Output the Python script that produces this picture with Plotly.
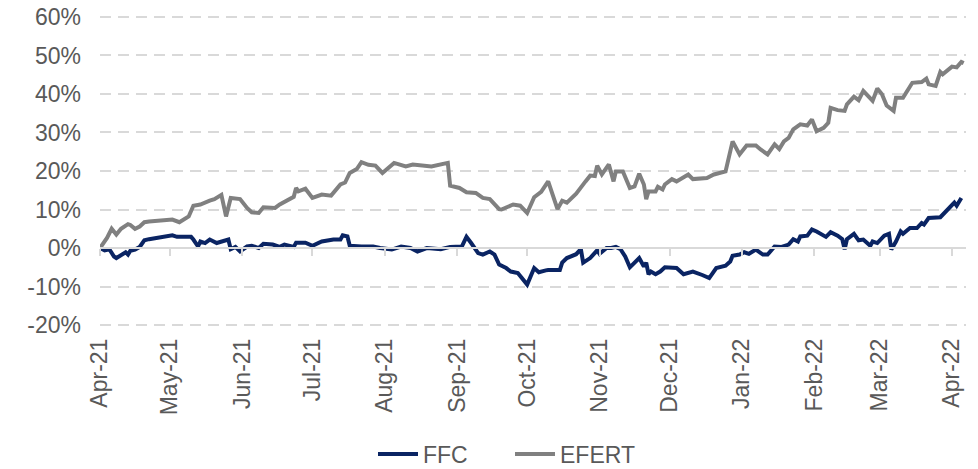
import plotly.graph_objects as go

ffc_dates = ["2021-04-01","2021-04-03","2021-04-05","2021-04-07","2021-04-08","2021-04-10","2021-04-12","2021-04-13","2021-04-14","2021-04-16","2021-04-18","2021-04-20","2021-04-22","2021-05-02","2021-05-04","2021-05-10","2021-05-11","2021-05-13","2021-05-14","2021-05-16","2021-05-18","2021-05-21","2021-05-26","2021-05-27","2021-05-29","2021-05-31","2021-06-03","2021-06-05","2021-06-08","2021-06-10","2021-06-14","2021-06-17","2021-06-19","2021-06-23","2021-06-24","2021-06-28","2021-07-01","2021-07-05","2021-07-10","2021-07-13","2021-07-14","2021-07-16","2021-07-17","2021-07-22","2021-07-27","2021-07-30","2021-08-04","2021-08-08","2021-08-12","2021-08-15","2021-08-19","2021-08-25","2021-08-29","2021-09-03","2021-09-05","2021-09-07","2021-09-10","2021-09-12","2021-09-15","2021-09-17","2021-09-19","2021-09-22","2021-09-24","2021-09-27","2021-09-29","2021-10-01","2021-10-04","2021-10-06","2021-10-09","2021-10-10","2021-10-15","2021-10-16","2021-10-18","2021-10-22","2021-10-24","2021-10-25","2021-10-28","2021-10-31","2021-11-01","2021-11-04","2021-11-06","2021-11-08","2021-11-10","2021-11-12","2021-11-14","2021-11-16","2021-11-18","2021-11-20","2021-11-21","2021-11-22","2021-11-23","2021-11-25","2021-11-27","2021-11-29","2021-12-04","2021-12-07","2021-12-11","2021-12-15","2021-12-18","2021-12-21","2021-12-25","2021-12-27","2021-12-28","2021-12-31","2022-01-02","2022-01-04","2022-01-07","2022-01-10","2022-01-12","2022-01-15","2022-01-18","2022-01-21","2022-01-23","2022-01-25","2022-01-26","2022-01-29","2022-01-31","2022-02-02","2022-02-06","2022-02-08","2022-02-11","2022-02-13","2022-02-14","2022-02-15","2022-02-18","2022-02-20","2022-02-22","2022-02-25","2022-02-26","2022-02-28","2022-03-03","2022-03-05","2022-03-06","2022-03-08","2022-03-10","2022-03-11","2022-03-14","2022-03-17","2022-03-19","2022-03-20","2022-03-22","2022-03-27","2022-03-30","2022-04-02","2022-04-03","2022-04-05"]
ffc_values = [0,-0.6,-0.3,-2.2,-2.6,-1.7,-1.1,-1.7,-0.7,-0.4,0.3,2.0,2.3,3.3,2.9,2.9,2.2,0.4,1.7,1.3,2.2,1.3,2.2,-0.3,0.3,-0.9,0.4,0.6,0.0,1.1,0.9,0.3,0.9,0.3,1.4,1.4,0.6,1.7,2.2,2.2,3.3,3.0,0.6,0.4,0.4,0.0,-0.4,0.4,0.0,-0.9,0.0,-0.3,0.3,0.4,2.9,1.3,-1.3,-1.7,-0.9,-1.7,-4.3,-5.2,-6.1,-6.5,-8.2,-9.5,-5.2,-6.3,-5.8,-5.7,-5.7,-3.8,-2.6,-1.6,-0.3,-3.8,-2.6,-0.6,-1.5,0.0,0.0,0.3,-0.3,-2.2,-5.0,-3.8,-2.6,-4.8,-3.8,-6.8,-6.1,-6.8,-6.1,-5.0,-5.2,-6.8,-6.1,-7.0,-7.8,-5.2,-4.6,-3.5,-2.0,-1.7,-1.1,-1.5,-0.4,-1.7,-1.7,0.4,0.3,0.9,2.3,1.7,3.0,3.2,4.8,4.3,2.9,4.1,3.2,2.3,-0.3,2.3,3.7,2.0,2.2,0.6,1.7,1.3,3.2,3.7,-0.4,1.7,4.3,3.7,5.2,5.2,6.5,6.1,7.8,8.0,10.0,11.8,11.0,13.0]

efert_dates = ["2021-04-01","2021-04-04","2021-04-06","2021-04-08","2021-04-10","2021-04-13","2021-04-14","2021-04-16","2021-04-18","2021-04-20","2021-04-22","2021-05-02","2021-05-05","2021-05-09","2021-05-11","2021-05-14","2021-05-18","2021-05-20","2021-05-23","2021-05-25","2021-05-27","2021-05-31","2021-06-03","2021-06-05","2021-06-08","2021-06-10","2021-06-15","2021-06-17","2021-06-23","2021-06-24","2021-06-25","2021-06-28","2021-07-01","2021-07-05","2021-07-09","2021-07-13","2021-07-15","2021-07-17","2021-07-20","2021-07-22","2021-07-25","2021-07-28","2021-07-31","2021-08-02","2021-08-05","2021-08-10","2021-08-13","2021-08-21","2021-08-28","2021-08-29","2021-09-02","2021-09-05","2021-09-09","2021-09-12","2021-09-15","2021-09-19","2021-09-20","2021-09-25","2021-09-28","2021-10-01","2021-10-04","2021-10-07","2021-10-10","2021-10-14","2021-10-16","2021-10-18","2021-10-22","2021-10-26","2021-10-28","2021-10-30","2021-10-31","2021-11-02","2021-11-05","2021-11-07","2021-11-08","2021-11-11","2021-11-14","2021-11-16","2021-11-18","2021-11-20","2021-11-21","2021-11-22","2021-11-25","2021-11-26","2021-11-28","2021-11-29","2021-12-02","2021-12-04","2021-12-09","2021-12-11","2021-12-17","2021-12-20","2021-12-25","2021-12-28","2021-12-31","2022-01-03","2022-01-07","2022-01-09","2022-01-12","2022-01-15","2022-01-17","2022-01-19","2022-01-21","2022-01-23","2022-01-25","2022-01-26","2022-01-29","2022-01-31","2022-02-02","2022-02-05","2022-02-07","2022-02-08","2022-02-11","2022-02-14","2022-02-15","2022-02-18","2022-02-20","2022-02-22","2022-02-24","2022-02-26","2022-02-28","2022-03-02","2022-03-04","2022-03-07","2022-03-08","2022-03-11","2022-03-15","2022-03-19","2022-03-21","2022-03-22","2022-03-25","2022-03-27","2022-03-28","2022-04-01","2022-04-03","2022-04-05","2022-04-06"]
efert_values = [0,2.6,5.0,3.5,5.0,6.2,6.0,5.0,5.6,6.7,6.9,7.4,6.7,8.2,11.0,11.3,12.3,12.7,13.8,8.2,13.0,12.7,10.4,9.3,9.1,10.6,10.4,11.3,13.3,15.6,14.7,15.4,13.0,13.9,13.6,16.5,17.0,19.5,20.5,22.3,21.6,21.4,19.5,20.5,22.1,21.2,21.7,21.2,22.1,16.2,15.6,14.5,14.3,13.0,12.7,10.1,10.0,11.3,11.0,9.1,13.2,14.6,17.3,10.1,12.3,11.8,14.1,17.3,18.8,18.7,21.4,19.1,21.7,17.3,19.9,19.9,15.6,16.0,19.3,16.5,12.7,14.7,14.7,15.9,15.2,16.5,17.9,17.3,19.1,17.9,18.2,19.1,19.9,27.7,24.3,26.6,26.6,25.6,24.3,26.9,25.7,27.7,28.6,30.8,31.5,32.1,31.8,33.4,30.3,31.2,32.5,36.4,35.8,35.6,37.3,39.3,38.4,40.8,39.5,38.2,41.4,39.9,37.0,35.6,39.0,39.0,42.9,43.1,44.0,42.5,42.1,45.7,45.1,47.1,46.9,48.3,48.0]

month_ticks = ["2021-04-01","2021-05-01","2021-06-01","2021-07-01","2021-08-01","2021-09-01","2021-10-01","2021-11-01","2021-12-01","2022-01-01","2022-02-01","2022-03-01","2022-04-01"]
month_labels = ["Apr-21","May-21","Jun-21","Jul-21","Aug-21","Sep-21","Oct-21","Nov-21","Dec-21","Jan-22","Feb-22","Mar-22","Apr-22"]
y_tick_vals = [-20, -10, 0, 10, 20, 30, 40, 50, 60]
y_tick_text = ["-20%", "-10%", "0%", "10%", "20%", "30%", "40%", "50%", "60%"]

x_range = ["2021-04-01", "2022-04-07"]
y_range = [-20.5, 60.5]

FONT = "Liberation Sans, Arial, sans-serif"
TXT = "#595959"
GRID = "#d9d9d9"
FS = 23

fig = go.Figure()
fig.add_trace(go.Scatter(x=ffc_dates, y=ffc_values, mode="lines", name="FFC",
                         line=dict(color="#0A2463", width=4)))
fig.add_trace(go.Scatter(x=efert_dates, y=efert_values, mode="lines", name="EFERT",
                         line=dict(color="#808080", width=4)))
# carrier trace so the zero-line tick axis is drawn
fig.add_trace(go.Scatter(x=month_ticks, y=[None] * len(month_ticks), xaxis="x2",
                         mode="lines", showlegend=False, hoverinfo="skip"))

zero_pos = (0 - y_range[0]) / (y_range[1] - y_range[0])

fig.update_layout(
    width=978, height=469,
    margin=dict(l=100, r=12, t=15, b=142, autoexpand=False),
    paper_bgcolor="white", plot_bgcolor="white",
    font=dict(family=FONT, size=FS, color=TXT),
    showlegend=True,
    legend=dict(orientation="h", xref="container", yref="container",
                x=373 / 978, xanchor="left", y=1 - 454 / 469, yanchor="middle",
                font=dict(family=FONT, size=FS, color=TXT),
                itemwidth=40, entrywidth=82, entrywidthmode="pixels", tracegroupgap=0),
    xaxis=dict(type="date", range=x_range, tickvals=month_ticks, ticktext=month_labels,
               tickangle=-90, showgrid=False, zeroline=False, showline=False,
               ticks="", ticklabelstandoff=6, automargin=False,
               tickfont=dict(family=FONT, size=FS, color=TXT)),
    xaxis2=dict(type="date", overlaying="x", matches="x", anchor="free", position=zero_pos,
                side="bottom", range=x_range, tickvals=month_ticks, showticklabels=False,
                showgrid=False, zeroline=False, showline=True, linecolor=GRID, linewidth=1.5,
                ticks="outside", ticklen=7, tickwidth=1.5, tickcolor=GRID, automargin=False),
    yaxis=dict(range=y_range, tickvals=y_tick_vals, ticktext=y_tick_text,
               showgrid=True, gridcolor=GRID, gridwidth=1.5, griddash="11px,7px",
               zeroline=False, showline=False, ticks="", ticklabelstandoff=18, automargin=False,
               tickfont=dict(family=FONT, size=FS, color=TXT)),
)

fig.write_html("out.html", config={"displayModeBar": False},
               post_script="document.body.style.margin='0';")
